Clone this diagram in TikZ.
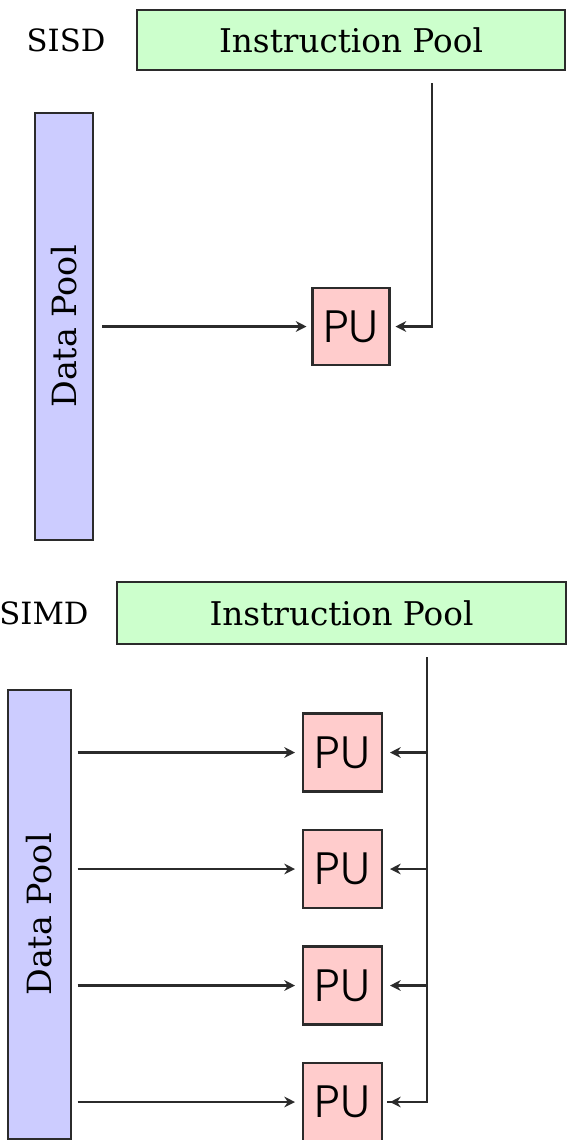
\documentclass[tikz,border=0pt]{standalone}
\usepackage{fontspec}
\setmainfont{DejaVu Serif}
% thin geometric sans for the processing units, with fallbacks
\IfFontExistsTF{Poppins Light}
  {\newfontfamily\pufont{Poppins Light}}
  {\IfFontExistsTF{Lato Light}
    {\newfontfamily\pufont{Lato Light}}
    {\IfFontExistsTF{Fira Sans Light}
      {\newfontfamily\pufont{Fira Sans Light}}
      {\newfontfamily\pufont{Poppins}}}}
\usetikzlibrary{arrows.meta}
\definecolor{poolgreen}{HTML}{CCFFCC}
\definecolor{poolblue}{HTML}{CCCCFF}
\definecolor{pupink}{HTML}{FFCCCC}
\definecolor{edge}{HTML}{2B2B2B}
\tikzset{
  x=0.75pt, y=-0.75pt,
  box/.style={draw=edge, line width=1.9pt, inner sep=0pt, outer sep=0pt},
  lbl/.style={font=\fontsize{23}{27}\selectfont, inner sep=0pt},
  instr/.style={box, fill=poolgreen, minimum width=#1*0.75pt, minimum height=60*0.75pt,
                font=\fontsize{24.5}{28}\selectfont},
  datapool/.style={box, fill=poolblue, minimum width=58*0.75pt, minimum height=#1*0.75pt},
  dptext/.style={font=\fontsize{25}{29}\selectfont, inner sep=0pt, rotate=90},
  pu/.style={box, fill=pupink, minimum width=77*0.75pt, minimum height=77*0.75pt,
             font=\pufont\fontsize{34}{36}\selectfont},
  flow/.style={draw=edge, line width=1.9pt, -{Stealth[length=8pt,width=8pt]}},
}
\begin{document}
\begin{tikzpicture}
\useasboundingbox (0,0) rectangle (569,1140);

% ---------- SISD ----------
\node[lbl] (sisd) at (66,40) {SISD};
\node[instr=428] (ip1) at (351,40) {Instruction Pool};
\node[datapool=427] (dp1) at (64,326.5) {};
\node[dptext] (dp1t) at (dp1.center) {Data Pool};
\node[pu] (pu1) at (351,326.5) {PU};

\coordinate (bus1) at (432,83);
\draw[flow, shorten >=4.5pt] (bus1) |- (pu1.east);
\draw[flow, shorten <=7pt, shorten >=4.5pt] (dp1.east |- pu1.west) -- (pu1.west);

% ---------- SIMD ----------
\node[lbl] (simd) at (44,613) {SIMD};
\node[instr=449, minimum height=62*0.75pt] (ip2) at (341.5,613) {Instruction Pool};
\node[datapool=449, minimum width=63*0.75pt] (dp2) at (39.5,914.5) {};
\node[dptext] (dp2t) at (dp2.center) {Data Pool};

\node[pu, minimum width=79*0.75pt, minimum height=78*0.75pt] (pua) at (342.5,752.5) {PU};
\node[pu, minimum width=79*0.75pt, minimum height=78*0.75pt] (pub) at (342.5,869) {PU};
\node[pu, minimum width=79*0.75pt, minimum height=78*0.75pt] (puc) at (342.5,985.5) {PU};
\node[pu, minimum width=79*0.75pt, minimum height=78*0.75pt] (pud) at (342.5,1102) {PU};

\coordinate (bus2) at (427,657);
\draw[draw=edge, line width=1.9pt] (bus2) |- ([xshift=-30pt]bus2 |- pud.east);
\foreach \p in {pua,pub,puc,pud}{
  \draw[flow, shorten >=6pt] (bus2 |- \p.east) -- (\p.east);
  \draw[flow, shorten <=5pt, shorten >=6pt] (dp2.east |- \p.west) -- (\p.west);
}
\end{tikzpicture}
\end{document}
